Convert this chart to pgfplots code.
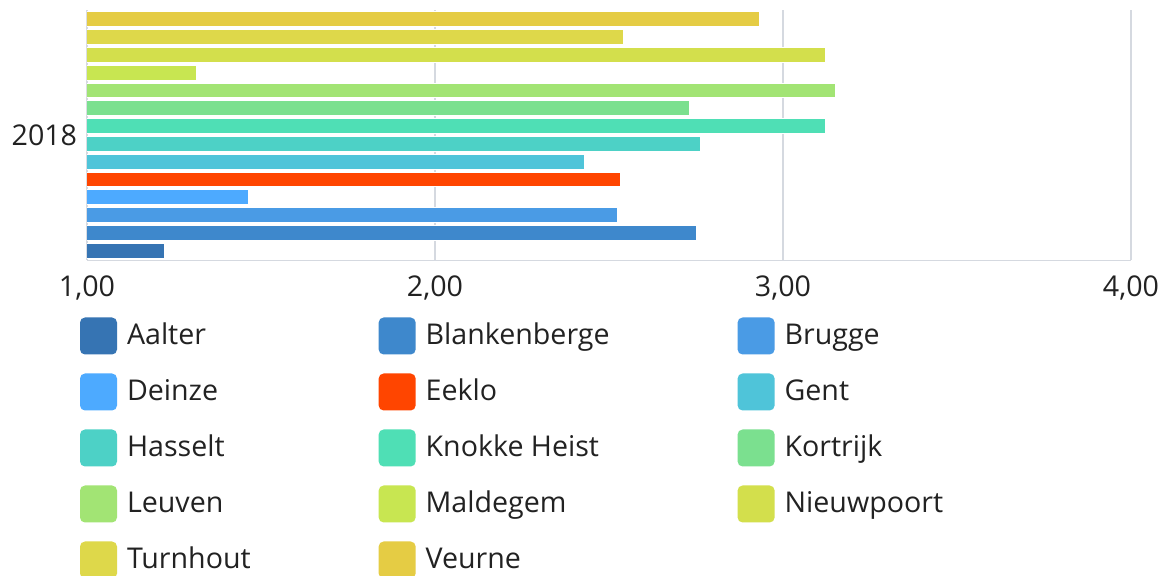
\documentclass[border=0pt]{standalone}
\usepackage{fontspec}
\setmainfont{Open Sans}
\usepackage{pgfplots}
\pgfplotsset{compat=1.18}
\definecolor{cAalter}{HTML}{3674B3}
\definecolor{cBlankenberge}{HTML}{3E88CC}
\definecolor{cBrugge}{HTML}{4A9BE5}
\definecolor{cDeinze}{HTML}{4DAAFF}
\definecolor{cEeklo}{HTML}{FF4500}
\definecolor{cGent}{HTML}{4FC4D9}
\definecolor{cHasselt}{HTML}{4DD1C6}
\definecolor{cKnokke}{HTML}{4FDFB5}
\definecolor{cKortrijk}{HTML}{7BE08F}
\definecolor{cLeuven}{HTML}{A2E474}
\definecolor{cMaldegem}{HTML}{C8E651}
\definecolor{cNieuwpoort}{HTML}{D3DF4C}
\definecolor{cTurnhout}{HTML}{DED84A}
\definecolor{cVeurne}{HTML}{E5CC44}
\definecolor{gridc}{HTML}{D5D9E0}
\definecolor{txt}{HTML}{222222}
\begin{document}
\fontsize{14.3pt}{17pt}\selectfont
\begin{tikzpicture}
\useasboundingbox (0,0) rectangle (584pt,288pt);
\begin{axis}[
  at={(43.5pt,158pt)}, anchor=south west,
  scale only axis, width=522pt, height=125pt,
  xbar=1.5pt, bar width=7.4pt,
  xmin=1, xmax=4, xtick={1,2,3,4},
  ymin=-0.5, ymax=0.5, ytick={0}, yticklabels={2018},
  axis lines*=left,
  x axis line style={gridc},
  y axis line style={draw=none},
  xmajorgrids, grid style={gridc, line width=0.6pt},
  major tick length=0pt,
  /pgf/number format/.cd, use comma, fixed, fixed zerofill, precision=2, assume math mode=true,
  /pgfplots/.cd,
  xticklabel style={anchor=north, yshift=-3pt, text=txt},
  yticklabel style={anchor=east, xshift=0pt, text=txt},
  every axis plot/.append style={draw=white, line width=0.5pt},
  legend image code/.code={\fill[#1, draw=none, rounded corners=2.5pt] (0pt,-9.25pt) rectangle (18.5pt,9.25pt);},
  legend columns=3,
  legend cell align=left,
  legend style={at={(-0.0067,-0.23)}, anchor=north west, draw=none, inner sep=0pt, outer sep=0pt,
    row sep=9.5pt, text=txt,
    nodes={inner sep=0pt},
    /tikz/every odd column/.append style={column sep=5pt},
    /tikz/every even column/.append style={column sep=64pt}},
]
\addplot[fill=cAalter] coordinates {(1.224,0)}; \addlegendentry{Aalter}
\addplot[fill=cBlankenberge] coordinates {(2.752,0)}; \addlegendentry{Blankenberge}
\addplot[fill=cBrugge] coordinates {(2.523,0)}; \addlegendentry{Brugge}
\addplot[fill=cDeinze] coordinates {(1.463,0)}; \addlegendentry{Deinze}
\addplot[fill=cEeklo] coordinates {(2.532,0)}; \addlegendentry{Eeklo}
\addplot[fill=cGent] coordinates {(2.431,0)}; \addlegendentry{Gent}
\addplot[fill=cHasselt] coordinates {(2.762,0)}; \addlegendentry{Hasselt}
\addplot[fill=cKnokke] coordinates {(3.121,0)}; \addlegendentry{Knokke Heist}
\addplot[fill=cKortrijk] coordinates {(2.732,0)}; \addlegendentry{Kortrijk}
\addplot[fill=cLeuven] coordinates {(3.152,0)}; \addlegendentry{Leuven}
\addplot[fill=cMaldegem] coordinates {(1.314,0)}; \addlegendentry{Maldegem}
\addplot[fill=cNieuwpoort] coordinates {(3.121,0)}; \addlegendentry{Nieuwpoort}
\addplot[fill=cTurnhout] coordinates {(2.542,0)}; \addlegendentry{Turnhout}
\addplot[fill=cVeurne] coordinates {(2.932,0)}; \addlegendentry{Veurne}
\end{axis}
\end{tikzpicture}
\end{document}
